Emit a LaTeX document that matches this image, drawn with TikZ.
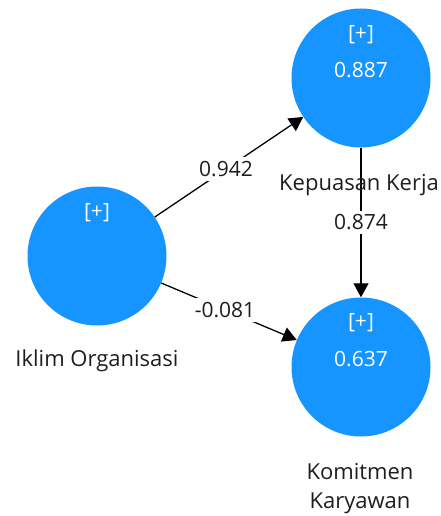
\documentclass[tikz,border=0pt]{standalone}
\usepackage{fontspec}
\setmainfont{Open Sans}
\usetikzlibrary{arrows.meta}
\definecolor{lvblue}{RGB}{22,148,255}
\definecolor{txtdark}{RGB}{30,30,30}
\begin{document}
\begin{tikzpicture}[x=1pt,y=-1pt,
  lv/.style={circle,fill=lvblue,draw=none,minimum size=139pt,inner sep=0pt},
  intext/.style={text=white,font=\fontsize{21}{25}\selectfont,inner sep=0pt},
  lbl/.style={text=txtdark,font=\fontsize{22}{26}\selectfont,inner sep=0pt,align=center},
  coef/.style={fill=white,text=txtdark,font=\fontsize{21}{25}\selectfont,inner sep=4pt},
  path/.style={draw=black,line width=1.3pt,-{Triangle[length=14pt,width=15pt]}}
]
\useasboundingbox (0,0) rectangle (441,516);
\node[lv] (IO) at (97,256) {};
\node[lv] (KK) at (361,78) {};
\node[lv] (KKar) at (361,367) {};
% inner texts
\node[intext] (IOp) at ([yshift=43pt]IO.center) {[+]};
\node[intext] (KKp) at ([yshift=43pt]KK.center) {[+]};
\node[intext] (KKv) at ([yshift=8pt]KK.center) {0.887};
\node[intext] (KKarp) at ([yshift=44pt]KKar.center) {[+]};
\node[intext] (KKarv) at ([yshift=8pt]KKar.center) {0.637};
% paths
\draw[path] (IO) -- node[coef,pos=0.48] (c1) {0.942} (KK);
\draw[path] (IO) -- node[coef,pos=0.47] (c2) {-0.081} (KKar);
\draw[path] (KK) -- node[coef,pos=0.5] (c3) {0.874} (KKar);
% labels
\node[lbl] (IOl) at (97,361) {Iklim Organisasi};
\node[lbl] (KKl) at (359,185) {Kepuasan Kerja};
\node[lbl] (KKarl1) at (360,472) {Komitmen};
\node[lbl] (KKarl2) at (360,503) {Karyawan};
\end{tikzpicture}
\end{document}
